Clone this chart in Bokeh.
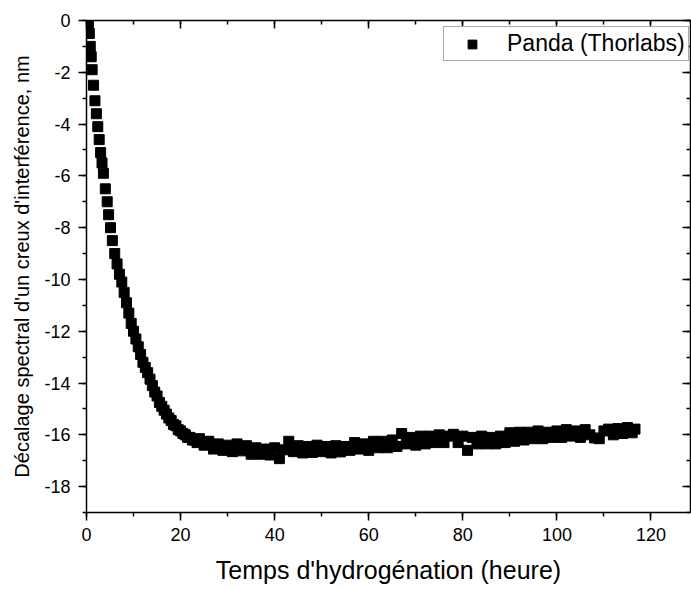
from bokeh.plotting import figure
from bokeh.models import (LinearAxis, Range1d, Legend, LegendItem, FixedTicker,
                          ColumnDataSource, CustomJSTickFormatter)
from bokeh.embed import file_html
from bokeh.resources import INLINE

# ---- data ----
t_decay = [0.4, 0.6, 0.8, 1.0, 1.2, 1.5, 1.8, 2.1, 2.4, 2.7, 3.0, 3.3, 3.6, 4.0, 4.4, 4.7,
           5.1, 5.5, 6.0, 6.5, 7.0, 7.5, 8.0, 8.5, 9.0, 9.5, 10.0, 10.5, 11.0, 11.5, 12.0,
           12.5, 13.0, 13.5, 14.0, 14.5, 15.0, 15.5, 16.0, 16.5, 17.0, 17.5, 18.0, 18.5,
           19.0, 19.5, 20.0, 20.5, 21.0, 21.5, 22.0, 22.5, 23.0, 23.5]
shift_decay = [-0.15, -0.5, -1.0, -1.4, -1.9, -2.5, -3.1, -3.6, -4.1, -4.6, -5.1, -5.5, -5.9,
               -6.5, -7.0, -7.5, -8.0, -8.5, -9.0, -9.4, -9.8, -10.1, -10.5, -10.9, -11.3,
               -11.7, -12.0, -12.3, -12.6, -12.9, -13.2, -13.4, -13.6, -13.85, -14.1, -14.35,
               -14.5, -14.75, -14.9, -15.05, -15.2, -15.35, -15.45, -15.6, -15.65, -15.8,
               -15.85, -15.95, -16.0, -16.1, -16.1, -16.2, -16.2, -16.3]

t_plateau = [24, 25, 26, 27, 28, 29, 30, 31, 32, 33, 34, 35, 36, 37, 38, 39, 40, 41, 42, 43,
             44, 45, 46, 47, 48, 49, 50, 51, 52, 53, 54, 55, 56, 57, 58, 59, 60, 61, 62, 63,
             64, 65, 66, 67, 68, 69, 70, 71, 72, 73, 74, 75, 76, 77, 78, 79, 80, 81, 82, 83,
             84, 85, 86, 87, 88, 89, 90, 91, 92, 93, 94, 95, 96, 97, 98, 99, 100, 101, 102,
             103, 104, 105, 106, 107, 108, 109, 110, 111, 112, 113, 114, 115, 116, 116.6]
shift_plateau = [-16.15, -16.4, -16.25, -16.55, -16.35, -16.6, -16.4, -16.65, -16.35, -16.62,
                 -16.42, -16.75, -16.5, -16.75, -16.55, -16.78, -16.5, -16.92, -16.58, -16.25,
                 -16.65, -16.42, -16.7, -16.45, -16.68, -16.4, -16.65, -16.45, -16.7, -16.42,
                 -16.66, -16.45, -16.6, -16.3, -16.55, -16.35, -16.6, -16.25, -16.5, -16.25,
                 -16.5, -16.2, -16.45, -15.95, -16.35, -16.1, -16.4, -16.05, -16.35, -16.05,
                 -16.3, -16.0, -16.3, -16.05, -15.98, -16.3, -16.05, -16.6, -16.1, -16.35,
                 -16.05, -16.35, -16.1, -16.35, -16.05, -16.3, -15.92, -16.25, -15.9, -16.2,
                 -15.9, -16.15, -15.85, -16.15, -15.9, -16.1, -15.85, -16.1, -15.8, -16.05,
                 -15.85, -16.1, -15.8, -16.0, -16.12, -16.15, -15.85, -15.78, -16.0, -15.76,
                 -15.95, -15.72, -15.92, -15.78]

x_major_ticks = [0, 20, 40, 60, 80, 100, 120]
x_minor_ticks = [0, 10, 20, 30, 40, 50, 60, 70, 80, 90, 100, 110, 120]
y_major_ticks = [-18, -16, -14, -12, -10, -8, -6, -4, -2, 0]
y_minor_ticks = [-19, -18, -17, -16, -15, -14, -13, -12, -11, -10, -9, -8, -7, -6, -5, -4,
                 -3, -2, -1, 0]

series_label = "Panda (Thorlabs)"
x_title = "Temps d'hydrogénation (heure)"
y_title = "Décalage spectral d'un creux d'interférence, nm"

FONT = "Liberation Sans"

source = ColumnDataSource(data=dict(t=t_decay + t_plateau, shift=shift_decay + shift_plateau))

p = figure(width=691, height=589, x_range=Range1d(0, 128.4), y_range=Range1d(-19, 0),
           output_backend="svg", toolbar_location=None,
           min_border_left=86, min_border_right=1, min_border_top=20, min_border_bottom=77)
p.xgrid.visible = False
p.ygrid.visible = False
p.outline_line_color = None
p.background_fill_color = "white"
p.border_fill_color = "white"

r = p.scatter("t", "shift", source=source, marker="square", size=10,
              fill_color="black", line_color="black")

plain = CustomJSTickFormatter(code="return tick.toString();")
blank = CustomJSTickFormatter(code="return '';")

def style(ax, ticker, out_ticks=True):
    ax.ticker = ticker
    ax.axis_line_color = "black"
    ax.axis_line_width = 1.5
    ax.major_tick_line_color = "black"
    ax.minor_tick_line_color = "black"
    ax.major_tick_line_width = 1.5
    ax.minor_tick_line_width = 1.5
    if out_ticks:
        ax.major_tick_out = 8
        ax.major_tick_in = 0
        ax.minor_tick_out = 4
        ax.minor_tick_in = 0
    else:
        ax.major_tick_out = 0
        ax.major_tick_in = 8
        ax.minor_tick_out = 0
        ax.minor_tick_in = 4
    ax.major_label_text_font = FONT
    ax.major_label_text_font_size = "18px"
    ax.major_label_text_color = "black"
    ax.axis_label_text_font = FONT
    ax.axis_label_text_font_style = "normal"
    ax.axis_label_text_color = "black"

xa = p.xaxis[0]
style(xa, FixedTicker(ticks=x_major_ticks, minor_ticks=x_minor_ticks))
xa.formatter = plain
xa.axis_label = x_title
xa.axis_label_text_font_size = "25px"
xa.major_label_standoff = 7
xa.axis_label_standoff = 12

ya = p.yaxis[0]
style(ya, FixedTicker(ticks=y_major_ticks, minor_ticks=y_minor_ticks))
ya.formatter = plain
ya.axis_label = y_title
ya.axis_label_text_font_size = "20px"
ya.major_label_standoff = 8
ya.axis_label_standoff = 8

top = LinearAxis()
style(top, FixedTicker(ticks=x_major_ticks, minor_ticks=x_minor_ticks), out_ticks=False)
top.formatter = blank
top.major_label_text_font_size = "1px"
top.major_label_standoff = 0
p.add_layout(top, "above")

right = LinearAxis()
style(right, FixedTicker(ticks=y_major_ticks, minor_ticks=y_minor_ticks), out_ticks=False)
right.formatter = blank
right.major_label_text_font_size = "1px"
right.major_label_standoff = 0
p.add_layout(right, "right")

legend = Legend(items=[LegendItem(label=series_label, renderers=[r])],
                location=(357, 451))
legend.label_text_font = FONT
legend.label_text_font_size = "23px"
legend.label_text_color = "black"
legend.border_line_color = "#555555"
legend.border_line_width = 1
legend.background_fill_color = "white"
legend.padding = 3
legend.margin = 0
legend.glyph_width = 50
legend.glyph_height = 22
legend.label_standoff = 10
legend.label_height = 22
p.add_layout(legend, "center")

open("out.html", "w").write(file_html(p, INLINE))
